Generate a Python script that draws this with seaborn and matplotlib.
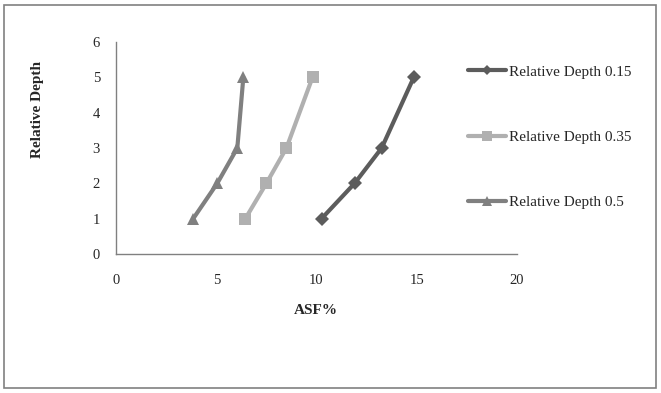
import matplotlib
import matplotlib.pyplot as plt
import pandas as pd
import seaborn as sns
from matplotlib.lines import Line2D
from matplotlib.patches import Rectangle

matplotlib.use('Agg')

# data
depth = [1, 2, 3, 5]
asf_015 = [10.25, 11.9, 13.25, 14.85]
asf_035 = [6.45, 7.5, 8.5, 9.8]
asf_05 = [3.85, 5.05, 6.05, 6.35]
labels = ["Relative Depth 0.15", "Relative Depth 0.35", "Relative Depth 0.5"]
x_ticks = [0, 5, 10, 15, 20]
y_ticks = [0, 1, 2, 3, 4, 5, 6]

colors = ["#5c5c5c", "#b0b0b0", "#808080"]
markers = ["D", "s", "^"]
sizes = [7, 9, 9]

sns.set_style("white")
plt.rcParams['font.family'] = ['Liberation Serif', 'DejaVu Serif']

fig = plt.figure(figsize=(6.61, 3.93), dpi=100)
ax = fig.add_axes([0.1755, 0.3537, 0.6067, 0.5394])

# outer border like the spreadsheet chart area
fig.patches.append(Rectangle((4 / 661, 5 / 393), 652 / 661, 383 / 393,
                             transform=fig.transFigure, fill=False,
                             edgecolor="#808080", linewidth=1.2))

series = [asf_015, asf_035, asf_05]
for vals, lab, col, mk, ms in zip(series, labels, colors, markers, sizes):
    df = pd.DataFrame({"ASF": vals, "depth": depth})
    sns.lineplot(data=df, x="ASF", y="depth", ax=ax, color=col, linewidth=3,
                 marker=mk, markersize=ms, markeredgewidth=0, sort=False,
                 label=lab)

ax.set_xlim(0, 20)
ax.set_ylim(0, 6)
ax.set_xticks(x_ticks)
ax.set_yticks(y_ticks)
ax.tick_params(axis="both", direction="out", length=3.5, width=1,
               color="#808080", labelsize=10.5)
ax.tick_params(axis="x", pad=11)
ax.tick_params(axis="y", pad=8)
for side in ["top", "right"]:
    ax.spines[side].set_visible(False)
for side in ["left", "bottom"]:
    ax.spines[side].set_color("#808080")
    ax.spines[side].set_linewidth(1)

ax.set_xlabel("")
ax.set_ylabel("")
fig.text(316 / 661, 1 - 310 / 393, "ASF%", fontsize=11, fontweight="bold",
         ha="center", va="center")
fig.text(38 / 661, 1 - 109 / 393, "Relative Depth", rotation=90, fontsize=11,
         fontweight="bold", ha="center", va="center")

ax.get_legend().remove()
handles = [Line2D([], [], color=c, linewidth=3, marker=m, markersize=s * 0.8,
                  markeredgewidth=0) for c, m, s in zip(colors, markers, sizes)]
fig.legend(handles, labels, loc="upper left",
           bbox_to_anchor=(462 / 661, 1 - 59 / 393), frameon=False,
           fontsize=11, handlelength=2.5, handletextpad=0.15,
           labelspacing=3.38, borderaxespad=0)

fig.savefig("out.png", dpi=100)
